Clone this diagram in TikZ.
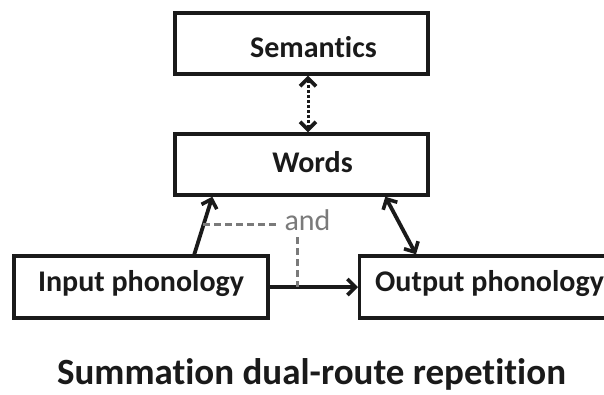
\documentclass[tikz,border=0pt]{standalone}
\usepackage{fontspec}
\setmainfont{Carlito}[Ligatures={NoCommon,NoRequired,NoContextual}]
\usetikzlibrary{arrows.meta,calc}
\definecolor{ink}{HTML}{1A1A1A}
\definecolor{andgray}{HTML}{7A7A7A}
\tikzset{
  box/.style={draw=ink, line width=3.4pt, rectangle, inner sep=0pt},
  lab/.style={text=ink, font=\fontsize{30}{36}\selectfont\bfseries, inner sep=0pt},
  chev/.tip={Straight Barb[length=8pt,width=16pt,line width=3.6pt]},
  arr/.style={draw=ink, line width=3.8pt, -chev},
  darr/.style={draw=ink, line width=3.8pt, chev-chev},
  dotarr/.style={draw=ink, line width=3pt, dash pattern=on 2.5pt off 2.5pt, chev-chev},
  grdash/.style={draw=andgray, line width=3pt, dash pattern=on 7pt off 4pt},
}
\begin{document}
\begin{tikzpicture}[x=1pt,y=-1pt]
\fill[white] (0,0) rectangle (604,394);
\useasboundingbox (0,0) rectangle (604,394);
\clip (0,0) rectangle (604,394);

\node[box, minimum width=253, minimum height=61,
      label={[lab, xshift=12pt, yshift=-4pt]center:Semantics}] (sem) at (301.5,43.5) {};
\node[box, minimum width=253, minimum height=61,
      label={[lab, xshift=11pt, yshift=2pt]center:Words}] (wrd) at (301.5,164.5) {};
\node[box, minimum width=254, minimum height=62,
      label={[lab, yshift=3pt]center:Input phonology}] (inp) at (141,287) {};
\node[box, minimum width=262, minimum height=62, anchor=west,
      label={[lab, anchor=west, xshift=17pt, yshift=3pt]west:Output phonology}] (out) at (358,287) {};

\node[text=andgray, font=\fontsize{30}{36}\selectfont, inner sep=0pt, anchor=base] (and) at (307.5,230) {and};

\node[text=ink, font=\fontsize{37}{44}\selectfont\bfseries, inner sep=0pt, anchor=base] (title) at (311.5,384) {Summation dual-route repetition};

% connectors
\draw[dotarr] ($(sem.south)+(6.5,0)$) -- ($(wrd.north)+(6.5,0)$);
\draw[arr] ($(inp.north west)+(182,0)$) coordinate (ia) -- ($(wrd.south west)+(39,0)$) coordinate (wb);
\draw[darr] ($(wrd.south west)+(212,0)$) -- ($(out.north west)+(58,0)$);
\draw[arr] (inp.east) -- (out.west);

\coordinate (dh) at ($(ia)!0.51!(wb)$);
\draw[grdash] (dh) -- ($(dh -| and.west)+(-7,0)$);
\coordinate (dv) at (297,237);
\draw[grdash] (dv) -- (dv |- inp.east);
\end{tikzpicture}
\end{document}
